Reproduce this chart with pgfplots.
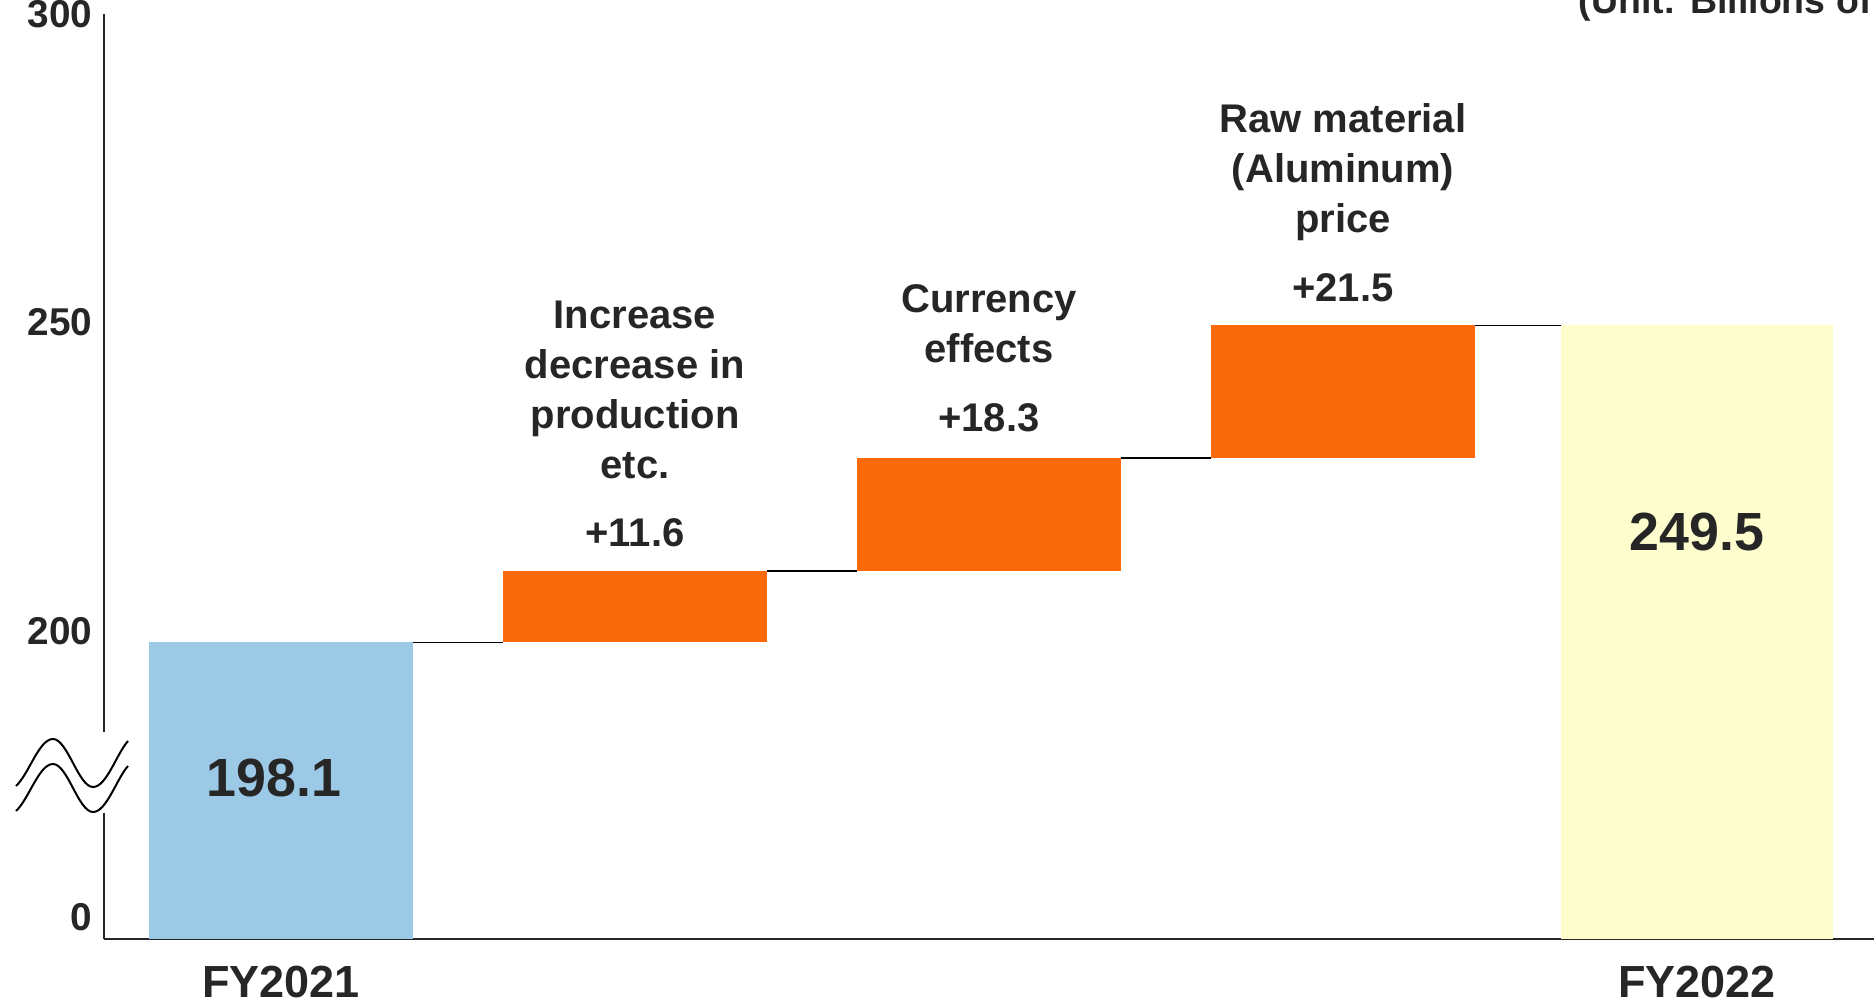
\documentclass[border=0pt]{standalone}
\usepackage{pgfplots}
\pgfplotsset{compat=1.18}
\usepackage{fontspec}
\setmainfont{Liberation Sans}
\definecolor{barblue}{RGB}{156,201,230}
\definecolor{barorange}{RGB}{250,106,10}
\definecolor{baryellow}{RGB}{253,253,206}
\definecolor{txt}{RGB}{38,38,38}
\begin{document}
\begin{tikzpicture}[font=\bfseries]
\useasboundingbox (-41.6pt,-26.4pt) rectangle (708pt,375.6pt);
\clip (-41.6pt,-26.4pt) rectangle (708pt,375.6pt);
\begin{axis}[
  at={(0pt,0pt)}, anchor=south west,
  scale only axis, width=708pt, height=370pt,
  xmin=-0.5, xmax=4.5, ymin=150, ymax=300,
  axis x line=bottom, axis y line=left,
  axis line style={-, draw=black!85, line width=1pt},
  xtick={0,4}, xticklabels={FY2021,FY2022},
  ytick={153.5,200,250,300}, yticklabels={0,200,250,300},
  major tick length=0pt,
  xticklabel style={font=\fontsize{18}{21}\selectfont\bfseries, anchor=base, inner sep=0pt, yshift=-23.2pt, text=txt},
  yticklabel style={font=\fontsize{15.5}{18}\selectfont\bfseries, anchor=east, inner sep=4.5pt, text=txt},
  /pgf/number format/assume math mode=true,
  clip mode=individual,
]
% totals
\addplot[ybar, bar width=0.745, bar shift=0pt, fill=barblue, draw=none] coordinates {(0,198.1)};
\addplot[ybar, bar width=0.767, bar shift=0pt, fill=baryellow, draw=none] coordinates {(4,249.5)};
% increments (floating bars)
\addplot[fill=barorange, draw=none] coordinates {(0.6275,198.1) (1.3725,198.1) (1.3725,209.7) (0.6275,209.7)};
\addplot[fill=barorange, draw=none] coordinates {(1.6275,209.7) (2.3725,209.7) (2.3725,228.0) (1.6275,228.0)};
\addplot[fill=barorange, draw=none] coordinates {(2.6275,228.0) (3.3725,228.0) (3.3725,249.5) (2.6275,249.5)};
% connectors
\addplot[black, line width=0.6pt] coordinates {(0.3725,198.1) (0.6275,198.1)};
\addplot[black, line width=0.6pt] coordinates {(1.3725,209.7) (1.6275,209.7)};
\addplot[black, line width=0.6pt] coordinates {(2.3725,228.0) (2.6275,228.0)};
\addplot[black, line width=0.6pt] coordinates {(3.3725,249.5) (3.6165,249.5)};
% labels
\node[anchor=south, align=center, inner sep=0pt, text=txt, font=\fontsize{16}{20}\selectfont\bfseries, yshift=9.2pt] at (axis cs:1,209.7) {Increase\\decrease in\\production\\etc.\\[7.5pt]+11.6};
\node[anchor=south, align=center, inner sep=0pt, text=txt, font=\fontsize{16}{20}\selectfont\bfseries, yshift=10.2pt] at (axis cs:2,228.0) {Currency\\effects\\[7.5pt]+18.3};
\node[anchor=south, align=center, inner sep=0pt, text=txt, font=\fontsize{16}{20}\selectfont\bfseries, yshift=9.2pt] at (axis cs:3,249.5) {Raw material\\(Aluminum)\\price\\[7.5pt]+21.5};
\node[text=txt, font=\fontsize{21.5}{26}\selectfont\bfseries] at (axis cs:-0.02,176.1) {198.1};
\node[text=txt, font=\fontsize{21.5}{26}\selectfont\bfseries] at (axis cs:4,216.0) {249.5};
\node[anchor=base west, inner sep=0pt, text=txt, font=\fontsize{15}{18}\selectfont\bfseries] at (axis cs:3.664,300) {(Unit: Billions of Yen)};
\end{axis}
% axis break symbol
\fill[white] (-3pt,50.4pt) rectangle (3pt,82.8pt);
\draw[line width=0.8pt, black] (-35.2pt,61.2pt) .. controls (-30pt,66pt) and (-26pt,80pt) .. (-20.4pt,80pt) .. controls (-14.6pt,80pt) and (-10.2pt,60.8pt) .. (-4.4pt,60.8pt) .. controls (1pt,60.8pt) and (5pt,74pt) .. (9.6pt,79.2pt);
\draw[line width=0.8pt, black] (-35.2pt,51.2pt) .. controls (-30pt,56pt) and (-26pt,70pt) .. (-20.4pt,70pt) .. controls (-14.6pt,70pt) and (-10.2pt,50.8pt) .. (-4.4pt,50.8pt) .. controls (1pt,50.8pt) and (5pt,64pt) .. (9.6pt,69.2pt);
\end{tikzpicture}
\end{document}
